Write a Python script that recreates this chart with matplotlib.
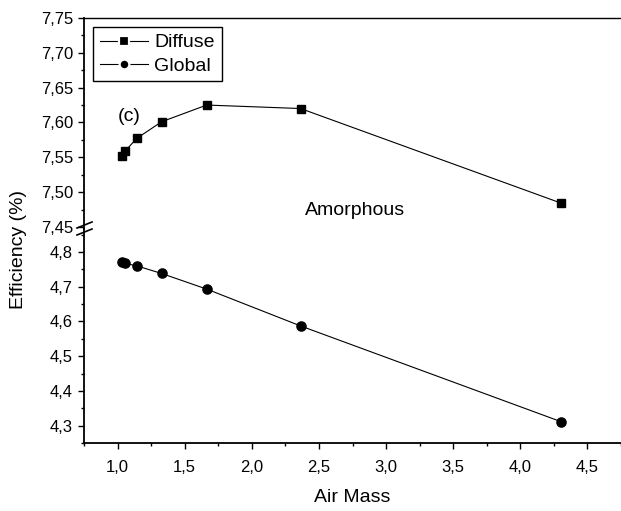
import numpy as np
import matplotlib.pyplot as plt
from matplotlib.ticker import MultipleLocator, FuncFormatter
from matplotlib.lines import Line2D

plt.rcParams['font.family'] = ['Liberation Sans', 'DejaVu Sans']

# Datos
air_mass = [1.03, 1.057, 1.142, 1.328, 1.664, 2.363, 4.306]
diffuse = [7.552, 7.559, 7.577, 7.601, 7.625, 7.620, 7.484]
global_ = [4.770, 4.767, 4.760, 4.738, 4.693, 4.587, 4.311]

fig = plt.figure(figsize=(6.21, 5.11), dpi=100)

left, right = 84 / 621, 1.0
top, brk, bottom = 1 - 18 / 511, 1 - 229 / 511, 1 - 443 / 511

ax_top = fig.add_axes([left, brk, right - left, top - brk])
ax_bot = fig.add_axes([left, bottom, right - left, brk - bottom])

ax_top.plot(air_mass, diffuse, color='black', lw=0.8, marker='s', ms=5.8,
            clip_on=False)
ax_bot.plot(air_mass, global_, color='black', lw=0.8, marker='o', ms=6.6,
            clip_on=False)

for ax in (ax_top, ax_bot):
    ax.set_xlim(0.75, 4.75)
    ax.spines['right'].set_visible(False)
    ax.spines['left'].set_linewidth(1.3)
    ax.tick_params(axis='both', which='major', direction='out', length=4,
                   width=1.0, labelsize=12, pad=4)
    ax.tick_params(axis='both', which='minor', direction='out', length=2.5,
                   width=1.0)

ax_top.set_ylim(7.447, 7.75)
ax_top.yaxis.set_major_locator(MultipleLocator(0.05))
ax_top.yaxis.set_minor_locator(MultipleLocator(0.025))
ax_top.yaxis.set_major_formatter(FuncFormatter(lambda v, p: f'{v:.2f}'.replace('.', ',')))
ax_top.spines['bottom'].set_visible(False)
ax_top.spines['top'].set_linewidth(1.0)
ax_top.tick_params(axis='x', which='both', bottom=False, labelbottom=False)

ax_bot.set_ylim(4.25, 4.866)
ax_bot.yaxis.set_major_locator(MultipleLocator(0.1))
ax_bot.yaxis.set_minor_locator(MultipleLocator(0.05))
ax_bot.yaxis.set_major_formatter(FuncFormatter(lambda v, p: f'{v:.1f}'.replace('.', ',')))
ax_bot.xaxis.set_major_locator(MultipleLocator(0.5))
ax_bot.xaxis.set_minor_locator(MultipleLocator(0.25))
ax_bot.xaxis.set_major_formatter(FuncFormatter(lambda v, p: f'{v:.1f}'.replace('.', ',')))
ax_bot.spines['top'].set_visible(False)
ax_bot.spines['bottom'].set_linewidth(1.3)
ax_bot.tick_params(axis='x', which='major', pad=8)

# Marcas de corte en el eje
for dy in (-4, 3):
    y0 = 1 - (229 + dy + 3) / 511
    y1 = 1 - (229 + dy - 3) / 511
    fig.add_artist(Line2D([77 / 621, 92 / 621], [y0, y1], color='black', lw=1.2))

# Leyenda estilo Origin: línea cortada alrededor del marcador
h_dif = Line2D([], [], color='black', lw=0.8, marker='s', ms=6.5,
               mfc='black', mec='white', mew=1.6)
h_glo = Line2D([], [], color='black', lw=0.8, marker='o', ms=7.0,
               mfc='black', mec='white', mew=1.6)
leg = ax_top.legend([h_dif, h_glo], ['Diffuse', 'Global'], loc='upper left',
                    bbox_to_anchor=(0.0168, 0.957), borderaxespad=0,
                    fontsize=14, fancybox=False, edgecolor='black',
                    framealpha=1, handlelength=2.5,
                    handletextpad=0.3, borderpad=0.35, labelspacing=0.28)
leg.get_frame().set_linewidth(1.0)

ax_top.text(1.0, 7.609, '(c)', fontsize=14, ha='left', va='center')
ax_top.text(2.395, 7.474, 'Amorphous', fontsize=14, ha='left', va='center')

fig.text(0.029, 0.511, 'Efficiency (%)', rotation=90, fontsize=14,
         ha='center', va='center')
fig.text(352 / 621, 1 - 497 / 511, 'Air Mass', fontsize=14,
         ha='center', va='center')

fig.savefig('out.png', dpi=100)
